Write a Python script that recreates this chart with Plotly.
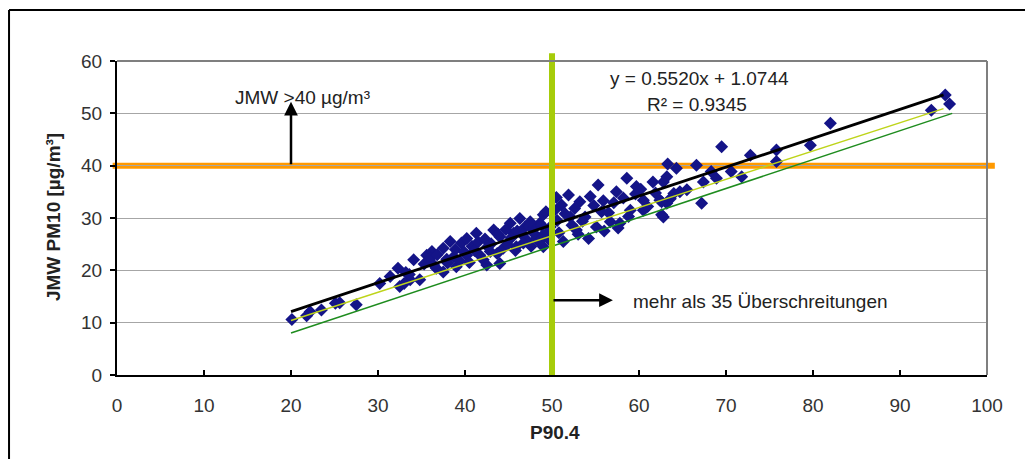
import plotly.graph_objects as go

# ---------------- data ----------------
p90_4 = [20.1, 21.8, 22.2, 23.5, 25.1, 25.6, 27.5, 30.2, 31.4, 32.3, 32.5, 33.0, 33.7, 34.1, 35.6, 33.2,
         36.2, 37.5, 34.8, 33.6, 36.4, 37.5, 39.0, 38.7, 40.2, 41.7, 42.9, 42.1, 44.4, 45.9, 47.1, 48.2,
         49.4, 49.0, 44.0, 42.5, 46.9, 44.0, 39.6, 38.3, 36.0, 48.6, 45.6, 49.0, 46.3, 45.2, 43.3, 41.3,
         40.2, 36.8, 37.9, 38.9, 39.9, 40.8, 41.5, 42.3, 43.0, 43.8, 44.7, 45.3, 46.0, 46.6, 47.4, 47.9,
         48.8, 35.3, 36.7, 38.0, 39.4, 40.5, 41.1, 42.6, 43.7, 44.9, 45.8, 46.7, 47.6, 48.5, 49.6,
         49.3, 50.3, 47.5, 52.1, 53.8, 55.7, 56.7, 57.8, 59.0, 60.5, 62.4, 64.0, 62.8, 54.2, 51.3, 49.0,
         49.8, 47.9, 52.8, 55.1, 57.6, 60.5, 63.2, 51.9, 51.1, 53.2, 54.4, 55.3, 57.4, 58.6, 59.7, 61.6,
         50.6, 51.5, 52.6, 53.5, 54.8, 55.9, 56.5, 57.1, 58.2, 58.8, 59.6, 60.2, 61.0, 61.9, 52.3, 50.8,
         53.0, 56.0, 50.5,
         64.3, 63.2, 62.8, 63.3, 66.6, 67.4, 68.3, 68.9, 70.6, 71.8, 72.8, 69.5, 75.8, 75.8, 65.5, 64.7,
         63.6, 67.2, 62.6, 62.6, 79.7, 82.0, 93.6, 95.2, 95.7]
jmw_pm10 = [10.6, 11.3, 12.1, 12.4, 13.7, 13.8, 13.4, 17.5, 18.8, 20.4, 16.9, 17.5, 18.2, 22.0, 22.9, 19.6,
            23.6, 24.2, 18.2, 19.2, 21.0, 19.7, 20.7, 22.6, 22.9, 22.9, 23.6, 22.0, 24.2, 24.5, 25.8, 26.1,
            27.1, 24.5, 21.3, 21.0, 28.3, 26.4, 25.2, 25.5, 22.3, 29.0, 27.1, 30.6, 29.9, 29.0, 27.7, 27.1,
            26.1, 23.0, 22.1, 24.0, 23.5, 24.6, 25.4, 26.0, 25.1, 26.9, 27.8, 26.2, 27.5, 26.8, 28.4, 28.0,
            28.6, 21.2, 20.4, 21.4, 21.8, 21.5, 23.8, 24.5, 23.2, 24.9, 23.8, 25.2, 24.6, 25.5, 26.0,
            31.2, 31.5, 29.3, 30.2, 30.2, 31.2, 29.3, 29.0, 31.5, 33.4, 33.4, 34.7, 30.2, 26.1, 25.5, 26.8,
            28.3, 27.1, 27.7, 28.3, 28.1, 31.5, 32.8, 34.4, 32.5, 33.1, 34.1, 36.3, 35.0, 37.6, 36.0, 36.9,
            29.5, 30.8, 31.8, 29.4, 32.4, 33.3, 31.0, 32.9, 33.8, 30.3, 34.6, 35.5, 32.2, 34.8, 28.6, 27.2,
            26.9, 27.5, 33.9,
            39.5, 37.9, 36.9, 40.3, 40.1, 36.9, 38.9, 37.6, 38.9, 37.9, 42.0, 43.6, 43.0, 40.8, 35.4, 35.0,
            33.7, 32.8, 30.6, 33.1, 43.9, 48.1, 50.6, 53.5, 51.8]

# regression and reference lines (slope, intercept, x-range)
trend_slope, trend_intercept = 0.5520, 1.0744
trend_x = [20, 95]
ref1_slope, ref1_intercept, ref1_x = 0.54, -0.4, [20, 95]
ref2_slope, ref2_intercept, ref2_x = 0.552, -3.0, [20, 96]

limit_jmw = 40
limit_p90 = 50

x_ticks = list(range(0, 101, 10))
y_ticks = list(range(0, 61, 10))

FONT = "Liberation Sans, Arial, sans-serif"

fig = go.Figure()

fig.add_trace(go.Scatter(
    x=p90_4, y=jmw_pm10, mode="markers",
    marker=dict(symbol="diamond", size=10, color="#141488",
                line=dict(width=0)),
    showlegend=False, hoverinfo="x+y"))

for xs, m, b, col, w in [(ref2_x, ref2_slope, ref2_intercept, "#1E8C1E", 1.5),
                         (ref1_x, ref1_slope, ref1_intercept, "#BED41A", 1.5),
                         (trend_x, trend_slope, trend_intercept, "#000000", 2.8)]:
    fig.add_trace(go.Scatter(x=xs, y=[m * v + b for v in xs], mode="lines",
                             line=dict(color=col, width=w), showlegend=False,
                             hoverinfo="skip"))

shapes = [
    # orange limit line
    dict(type="line", xref="paper", yref="y", x0=-0.005, x1=1.009,
         y0=limit_jmw, y1=limit_jmw, line=dict(color="#FF9900", width=6), layer="between"),
    # green vertical line
    dict(type="line", xref="x", yref="paper", x0=limit_p90, x1=limit_p90,
         y0=0, y1=1.025, line=dict(color="#A6CC0A", width=6), layer="above"),
    # top/right plot border
    dict(type="line", xref="paper", yref="paper", x0=0, x1=1, y0=1, y1=1,
         line=dict(color="#7f7f7f", width=2)),
    dict(type="line", xref="paper", yref="paper", x0=1, x1=1, y0=0, y1=1,
         line=dict(color="#7f7f7f", width=2)),
    # outer frame
    dict(type="line", xref="paper", yref="paper", x0=-0.1241, x1=1.2, y0=1.1624, y1=1.1624,
         line=dict(color="#000000", width=2)),
    dict(type="line", xref="paper", yref="paper", x0=-0.1241, x1=-0.1241, y0=-0.4, y1=1.1624,
         line=dict(color="#000000", width=2)),
]

txt = dict(family=FONT, size=19, color="#222222")
annotations = [
    dict(x=21.3, y=53.1, xref="x", yref="y", text="JMW &gt;40 µg/m³", showarrow=False, font=txt),
    dict(x=20, y=52.2, ax=20, ay=limit_jmw, xref="x", yref="y", axref="x", ayref="y", text="",
         showarrow=True, arrowhead=2, arrowsize=1.1, arrowwidth=2.5, arrowcolor="#000000"),
    dict(x=57.0, y=14.3, ax=limit_p90, ay=14.3, xref="x", yref="y", axref="x", ayref="y", text="",
         showarrow=True, arrowhead=2, arrowsize=1.1, arrowwidth=2.5, arrowcolor="#000000"),
    dict(x=59.1, y=14.0, xref="x", yref="y", text="mehr als 35 Überschreitungen",
         showarrow=False, xanchor="left", font=txt),
    dict(x=66.9, y=56.6, xref="x", yref="y", text="y = 0.5520x + 1.0744", showarrow=False, font=txt),
    dict(x=66.7, y=51.7, xref="x", yref="y", text="R² = 0.9345", showarrow=False, font=txt),
    dict(x=0.503, y=-0.182, xref="paper", yref="paper", text="<b>P90.4</b>", showarrow=False,
         yanchor="middle", font=dict(family=FONT, size=19, color="#222222")),
    dict(x=-0.0736, y=0.503, xref="paper", yref="paper", text="<b>JMW PM10 [µg/m³]</b>",
         showarrow=False, textangle=-90, xanchor="center", yanchor="middle",
         font=dict(family=FONT, size=19, color="#222222")),
]

fig.update_layout(
    width=1033, height=459,
    margin=dict(l=109, r=54, t=53, b=92),
    paper_bgcolor="white", plot_bgcolor="white",
    shapes=shapes, annotations=annotations,
    font=dict(family=FONT, size=19, color="#222222"),
    showlegend=False,
)
fig.update_xaxes(range=[0, 100], tickvals=x_ticks, showline=True, linecolor="#000000", linewidth=2,
                 ticks="inside", ticklen=5, tickcolor="#000000", tickwidth=2, showgrid=False,
                 zeroline=False, ticklabelstandoff=12, tickfont=dict(family=FONT, size=19, color="#333333"))
fig.update_yaxes(range=[0, 60], tickvals=y_ticks, showline=True, linecolor="#000000", linewidth=2,
                 ticks="outside", ticklen=5, tickcolor="#000000", tickwidth=2, showgrid=True,
                 gridcolor="#a6a6a6", gridwidth=1, zeroline=False, ticklabelstandoff=4,
                 tickfont=dict(family=FONT, size=19, color="#333333"))

fig.write_html("out.html")
